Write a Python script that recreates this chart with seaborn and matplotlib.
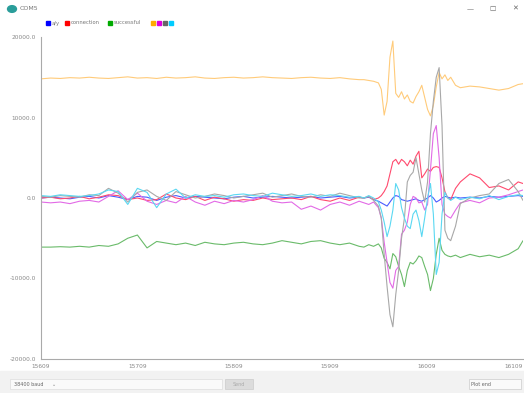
import numpy as np
import pandas as pd
import matplotlib
matplotlib.use("Agg")
import matplotlib.pyplot as plt
import seaborn as sns
from matplotlib.patches import Rectangle, Circle

# sample offsets (first sample shown = 15609)
start = 15609
flat_x = list(range(0, 331, 10))
active_x = [335, 340, 345, 350, 353, 356, 359, 362, 365, 368, 371, 374, 377, 380, 383,
            386, 389, 392, 395, 398, 401, 404, 407, 410, 413, 416, 419, 422, 425, 430, 435]
tail_x = [445, 455, 465, 475, 485, 495, 500]
sample = [start + s for s in flat_x + active_x + tail_x]

blue = [0, 100, 0, -100, 100, 200, 0, 300, 100, -200, 200, 100, -300, 100, 300, 0, 200,
        100, 0, -100, 100, 200, 0, 100, 200, 100, 0, 100, 200, 0, 100, 200, 0, 100,
        0, 100, -200, -400, -600, -800, -1000, -500, 0, 300, 200, -200, -300, -400, -300, -200,
        -100, -300, -400, -200, 0, 300, 0, -500, -300, 0, 200, 100, 0, 100, 0,
        100, 0, 200, 100, 200, 300, 200]
red = [0, 100, -100, 0, 200, -100, 100, 400, 300, -200, 0, -300, -200, 500, 0, -200, 200,
       -300, 100, -100, -400, -200, -300, 0, -200, -100, 0, -200, 200, -200, -400, 0, -300, 100,
       0, 200, -200, 0, 300, 800, 1500, 3000, 4500, 4800, 4200, 4800, 4500, 4000, 4700, 4200,
       5200, 5800, 2500, 3000, 3600, 3300, 3800, 3900, 3800, 2500, 800, 0, -200, 1200, 2000,
       3000, 2500, 1300, 1500, 1000, 2000, 1800]
green = [-6100, -6100, -6050, -6100, -6000, -6100, -5900, -6000, -5700, -5000, -4600, -6200,
         -5400, -5600, -5800, -5600, -5900, -5500, -5700, -5800, -5600, -5500, -5700, -5800,
         -5600, -5300, -5500, -5700, -5400, -5300, -5600, -5800, -5600, -6000,
         -6100, -5800, -6000, -5700, -6200, -7500, -8000, -8800, -6900, -7300, -8500, -9500,
         -11000, -9000, -8000, -8200, -7800, -7200, -7400, -8500, -9500, -11500, -10000, -7000,
         -5000, -6500, -7000, -7200, -7300, -7100, -7400,
         -7000, -7300, -7100, -7400, -7000, -6300, -5300]
orange = [14800, 14900, 14850, 14950, 14900, 15000, 14900, 14850, 14950, 15050, 14900, 14950,
          14850, 15000, 14900, 14950, 15050, 14900, 14850, 14950, 15000, 14900, 14950, 15050,
          14950, 14900, 14850, 14950, 15000, 14900, 14850, 14950, 14800, 14700,
          14700, 14600, 14500, 14300, 13500, 10300, 12000, 17500, 19500, 13000, 12500, 13200,
          12300, 12800, 12000, 11800, 12600, 13200, 14000, 12500, 11000, 10200, 11500, 13800,
          15600, 14800, 15300, 14600, 15000, 14000, 13700,
          13900, 13800, 13600, 13400, 13600, 14100, 14200]
magenta = [-500, -600, -500, -700, -400, -300, -500, 200, 900, -200, 600, -400, -800, -300,
           -600, 200, -500, -900, -400, -700, -300, -500, -200, 300, -400, -600, -500, -1400,
           -1000, -1500, -800, -500, -900, -400,
           -600, -800, -500, -1200, -2500, -5500, -8000, -10500, -11200, -9000, -8500, -4500,
           -4000, -3000, -800, 200, 0, -600, -500, -1500, -800, 3500, 8000, 9000, 5000, -800,
           -2000, -2300, -2500, -1500, -600,
           -300, -600, 0, 100, 400, 800, 1000]
gray = [200, 100, 300, 200, 100, 400, 300, 1200, 600, -500, 700, 1000, 200, -300, 800, 400, 0,
        200, 500, 300, 0, 200, 400, 600, 100, 300, 500, 200, 100, 400, 200, 600, 300, 0,
        0, 200, -300, -1000, -2500, -7000, -11000, -14500, -16000, -12000, -9000, -5000, -2500,
        2000, 2800, 3200, 5000, 3000, 1000, -500, 2000, 8000, 12000, 15000, 16200, 9000, -4000,
        -5000, -5300, -3500, -700,
        0, 300, 500, 1800, 2300, 800, -300]
cyan = [300, 200, 400, 300, 200, 300, 500, 1000, 800, -800, 1200, 700, -1200, 500, 1100, 0,
        400, 200, 300, 100, 400, 500, 300, 200, 600, 400, 200, 300, 500, 200, 400, 300, 100, 200,
        0, 300, 0, -500, -1500, -3000, -4800, -3500, -1500, 1800, 1000, -1200, -2500, -3500,
        -3800, -2000, -1500, -2800, -4800, -2500, 0, 1800, -2000, -9500, -8000, -2000, 700, 0,
        -300, 100, -200,
        100, -100, 300, -200, 200, 400, 300]

legend_labels = ["a/y", "connection", "successful"]
y_ticks = [20000, 10000, 0, -10000, -20000]
x_ticks = [15609, 15709, 15809, 15909, 16009, 16109]

series = {"blue": blue, "red": red, "green": green, "orange": orange,
          "magenta": magenta, "gray": gray, "cyan": cyan}
colors = {"blue": "#4a5cff", "red": "#ff4a6e", "green": "#6abb6a", "orange": "#ffcb7a",
          "magenta": "#e26ae6", "gray": "#a8a8a8", "cyan": "#5ad8f2"}

df = pd.concat([pd.DataFrame({"sample": sample, "value": v, "series": k})
                for k, v in series.items()])

sns.set_style("white")
fig = plt.figure(figsize=(5.24, 3.93), dpi=100)
ax = fig.add_axes([41 / 524, 1 - 359 / 393, 482 / 524, 322 / 393])

sns.lineplot(data=df, x="sample", y="value", hue="series", palette=colors,
             linewidth=0.8, legend=False, ax=ax, sort=False)

ax.set_xlim(15609, 16109)
ax.set_ylim(-20000, 20000)
ax.set_yticks(y_ticks)
ax.set_yticklabels([f"{t:.1f}" for t in y_ticks])
ax.set_xticks(x_ticks)
ax.set_xticklabels([str(t) for t in x_ticks])
ax.tick_params(axis="both", labelsize=4.2, colors="#999999", length=3, width=0.6,
               direction="inout", pad=2)
for t in ax.get_xticklabels() + ax.get_yticklabels():
    t.set_color("#888888")
# last label sits at the right edge, keep it inside the canvas
ax.get_xticklabels()[-1].set_ha("right")
ax.set_xlabel("")
ax.set_ylabel("")
for side in ["top", "right"]:
    ax.spines[side].set_visible(False)
for side in ["left", "bottom"]:
    ax.spines[side].set_color("#aaaaaa")
    ax.spines[side].set_linewidth(0.8)

# window title bar
fig.patches.append(Circle((12 / 524, 1 - 9 / 393), 0.0085, transform=fig.transFigure,
                          color="#2a9d9a", figure=fig))
fig.text(20 / 524, 1 - 9 / 393, "COM5", fontsize=4.5, color="#777777", va="center")
for xp, s in [(470, "—"), (492, "☐"), (515, "✕")]:
    fig.text(xp / 524, 1 - 9 / 393, s, fontsize=5, color="#666666", va="center", ha="center")

# legend row
lx = 46
legend_items = [("blue", legend_labels[0]), ("red", legend_labels[1]),
                ("green", legend_labels[2]), ("orange", ""), ("magenta", ""),
                ("gray", ""), ("cyan", "")]
full = {"blue": "#0000ff", "red": "#ff0000", "green": "#00aa00", "orange": "#ffaa00",
        "magenta": "#dd00dd", "gray": "#666666", "cyan": "#00ccff"}
for key, lab in legend_items:
    fig.patches.append(Rectangle((lx / 524, 1 - 25 / 393), 4 / 524, 4 / 393,
                                 transform=fig.transFigure, color=full[key], figure=fig))
    lx += 5
    if lab:
        fig.text((lx + 1) / 524, 1 - 23 / 393, lab, fontsize=3.8, color="#777777",
                 va="center")
        lx += 3.5 * len(lab) + 3
    else:
        lx += 1

# bottom bar
fig.patches.append(Rectangle((0, 0), 1, 22 / 393, transform=fig.transFigure,
                             color="#f2f2f2", figure=fig))
fig.patches.append(Rectangle((10 / 524, 4 / 393), 212 / 524, 10 / 393, transform=fig.transFigure,
                             facecolor="#fafafa", edgecolor="#dddddd", lw=0.5, figure=fig))
fig.text(14 / 524, 9 / 393, "38400 baud", fontsize=3.5, color="#666666", va="center")
fig.text(52 / 524, 9 / 393, "⌄", fontsize=3.5, color="#888888", va="center")
fig.patches.append(Rectangle((225 / 524, 4 / 393), 28 / 524, 10 / 393, transform=fig.transFigure,
                             facecolor="#dcdcdc", edgecolor="#cccccc", lw=0.5, figure=fig))
fig.text(239 / 524, 9 / 393, "Send", fontsize=3.5, color="#aaaaaa", va="center", ha="center")
fig.patches.append(Rectangle((469 / 524, 4 / 393), 52 / 524, 10 / 393, transform=fig.transFigure,
                             facecolor="#fafafa", edgecolor="#cccccc", lw=0.5, figure=fig))
fig.text(471 / 524, 9 / 393, "Plot end", fontsize=3.5, color="#666666", va="center")

fig.savefig("out.png", dpi=100)
